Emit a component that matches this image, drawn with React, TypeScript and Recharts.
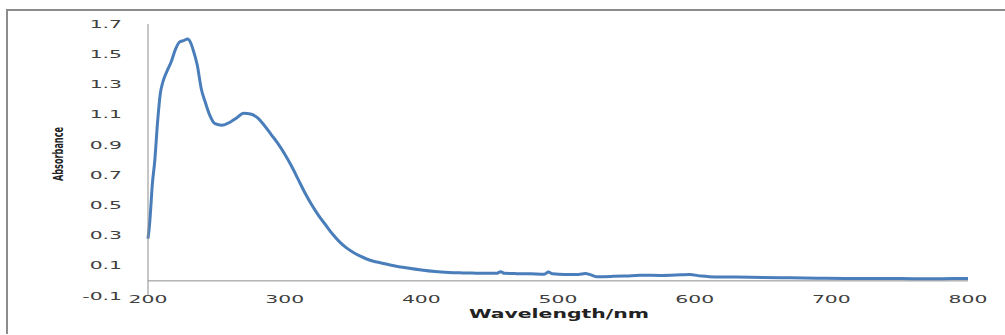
import React from 'react'
import { LineChart, Line, XAxis, YAxis, ReferenceLine } from 'recharts'

// UV-Vis absorption spectrum
const wavelengths = [
  200, 201, 202, 203, 205, 207, 209, 211, 214, 217, 220, 223, 226, 229, 231, 233, 236, 239, 242, 245,
  249, 254, 260, 265, 270, 275, 280, 285, 290, 295, 300, 305, 310, 315, 320, 325, 330, 335, 340, 345,
  350, 355, 360, 365, 370, 380, 390, 400, 410, 420, 430, 440, 450, 455, 458, 461, 470, 480, 490, 493,
  496, 505, 515, 520, 524, 528, 540, 550, 560, 575, 590, 596, 605, 615, 630, 650, 670, 690, 710, 730,
  750, 770, 790, 800,
]
const absorbance = [
  0.28, 0.36, 0.48, 0.62, 0.8, 1.05, 1.24, 1.32, 1.39, 1.45, 1.53, 1.58, 1.59, 1.6, 1.58, 1.53, 1.43, 1.27, 1.18, 1.1,
  1.04, 1.03, 1.05, 1.08, 1.11, 1.105, 1.08, 1.03, 0.97, 0.91, 0.84, 0.76, 0.67, 0.58, 0.5, 0.43, 0.37, 0.31, 0.26, 0.22,
  0.19, 0.165, 0.145, 0.13, 0.12, 0.1, 0.085, 0.072, 0.062, 0.056, 0.053, 0.051, 0.05, 0.05, 0.06, 0.05, 0.048, 0.047, 0.044, 0.058,
  0.047, 0.043, 0.043, 0.049, 0.04, 0.028, 0.03, 0.033, 0.037, 0.036, 0.04, 0.042, 0.032, 0.026, 0.025, 0.022, 0.02, 0.018, 0.016, 0.015,
  0.015, 0.014, 0.015, 0.015,
]
const xTicks = [200, 300, 400, 500, 600, 700, 800]
const yTicks = [-0.1, 0.1, 0.3, 0.5, 0.7, 0.9, 1.1, 1.3, 1.5, 1.7]

const data = wavelengths.map((wl, i) => ({ wl, abs: absorbance[i] }))

const FONT = '"DejaVu Sans", Verdana, sans-serif'
const AXIS_GREY = '#8c8c8c'

const XTick = ({ x, y, payload }: any) => (
  <g transform={`translate(${x},${y + 3}) scale(1.85,1)`}>
    <text textAnchor="middle" dominantBaseline="central" fontFamily={FONT} fontSize={11} fill="#404040">
      {payload.value}
    </text>
  </g>
)

const YTick = ({ x, y, payload }: any) => (
  <g transform={`translate(${x - 26},${y}) scale(1.85,1)`}>
    <text textAnchor="end" dominantBaseline="central" fontFamily={FONT} fontSize={11} fill="#404040">
      {payload.value.toFixed(1)}
    </text>
  </g>
)

export default function App() {
  return (
    <div style={{ position: 'relative', width: 1005, height: 335, background: '#fff', overflow: 'hidden' }}>
      <style>{'body{margin:0}'}</style>
      <div
        style={{
          position: 'absolute', left: 6, top: 9, width: 1010, height: 323,
          borderTop: `2px solid ${AXIS_GREY}`, borderLeft: `2px solid ${AXIS_GREY}`,
        }}
      />
      <LineChart
        width={1005}
        height={335}
        data={data}
        margin={{ top: 24, right: 37, bottom: 0, left: 0 }}
        style={{ position: 'absolute', left: 0, top: 0 }}
      >
        <XAxis
          dataKey="wl"
          type="number"
          domain={[200, 800]}
          ticks={xTicks}
          height={39}
          axisLine={false}
          tickLine={false}
          tickSize={0}
          tickMargin={0}
          tick={<XTick />}
          label={{
            content: () => (
              <text
                x={559} y={313} textAnchor="middle" dominantBaseline="central"
                fontFamily={FONT} fontWeight="bold" fontSize={13} fill="#222"
                textLength={180} lengthAdjust="spacingAndGlyphs"
              >
                Wavelength/nm
              </text>
            ),
          }}
        />
        <YAxis
          type="number"
          domain={[-0.1, 1.7]}
          ticks={yTicks}
          width={148}
          axisLine={{ stroke: AXIS_GREY, strokeWidth: 1 }}
          tickLine={false}
          tickSize={0}
          tickMargin={0}
          tick={<YTick />}
          label={{
            content: () => (
              <text
                x={58} y={154} transform="rotate(-90, 58, 154)" textAnchor="middle" dominantBaseline="central"
                fontFamily={FONT} fontWeight="bold" fontSize={14} fill="#222"
                textLength={54} lengthAdjust="spacingAndGlyphs"
              >
                Absorbance
              </text>
            ),
          }}
        />
        <ReferenceLine y={0} stroke={AXIS_GREY} strokeWidth={1} />
        <Line
          type="monotone"
          dataKey="abs"
          stroke="#4a7ebb"
          strokeWidth={3}
          dot={false}
          isAnimationActive={false}
        />
      </LineChart>
    </div>
  )
}
